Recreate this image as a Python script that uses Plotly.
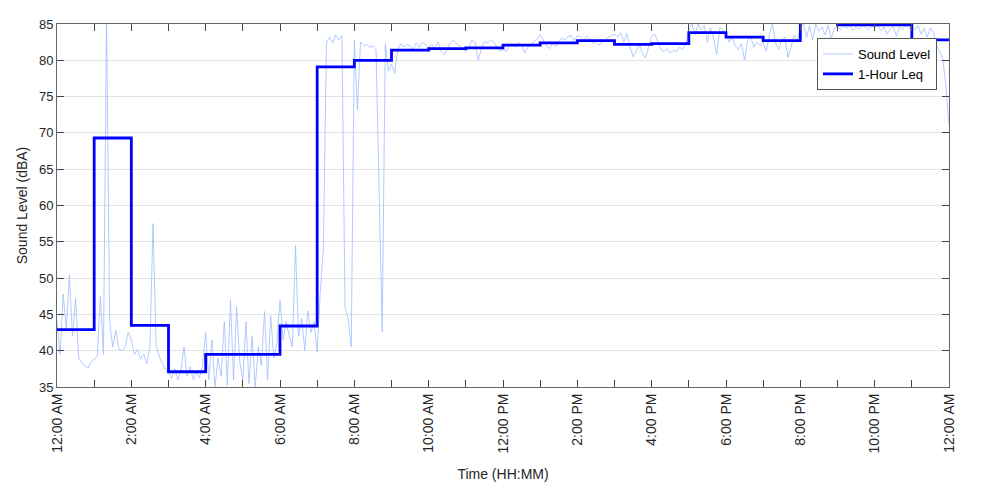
import plotly.graph_objects as go

# Sound level samples, 5-minute resolution, one row per hour (12 values each)
sound_h00 = [44, 39.5, 47.8, 43, 50.4, 42, 47.2, 39, 38.3, 38, 37.6, 38.5]
sound_h01 = [38.8, 39.2, 47.5, 39.5, 86, 44, 40.5, 42.8, 40.2, 40, 40.5, 42.5]
sound_h02 = [41.5, 39.5, 40.2, 38.8, 39.5, 38.2, 40.5, 57.5, 40.8, 39.2, 38.2, 37.5]
sound_h03 = [37, 36.2, 37.5, 36, 37.2, 40.5, 36.5, 37.8, 36, 37, 36.3, 38]
sound_h04 = [42.5, 36, 41.5, 35, 39, 36.5, 44, 35.2, 47, 36, 46, 38.5]
sound_h05 = [36, 44, 35.5, 42, 35, 40.5, 38, 45.4, 36, 44.8, 39, 41]
sound_h06 = [47, 41.5, 44, 42, 40.5, 54.5, 42, 44.5, 40, 45.5, 42.5, 44]
sound_h07 = [39.8, 48, 54, 82.5, 83.2, 82.4, 83.5, 82.8, 83.4, 46, 44.5, 40.5]
sound_h08 = [82.8, 73.2, 82.5, 82, 82.2, 81.8, 82, 81.5, 62, 42.6, 82.3, 78.5]
sound_h09 = [79.5, 78.2, 81.5, 82.3, 81.8, 82.2, 82, 81.5, 82.4, 81.8, 82.5, 82.2]
sound_h10 = [81.8, 82.2, 81.6, 82.5, 81.2, 80.8, 81.5, 82.4, 82.8, 82.3, 81.9, 81.5]
sound_h11 = [81.2, 81.8, 82.8, 82.5, 80, 81.6, 82.6, 82.4, 82.8, 82.5, 81.9, 81.3]
sound_h12 = [81.5, 81.2, 82, 82.3, 81.8, 82.4, 82.1, 81, 81.8, 82.2, 82.6, 82.9]
sound_h13 = [83.5, 82.8, 82, 81.6, 82.3, 81.9, 82.5, 83.1, 82.8, 83.3, 83.4, 82.7]
sound_h14 = [83.4, 83.2, 82.8, 83.3, 82.9, 82.3, 82.6, 82.1, 82.5, 82.9, 83.2, 83.4]
sound_h15 = [83.6, 83.2, 83.8, 82.5, 83.7, 81.8, 80.5, 81.3, 82.2, 81, 80.3, 81.8]
sound_h16 = [83.3, 83.6, 82.4, 81.5, 81.2, 81.6, 81, 81.4, 81.2, 81.8, 81.5, 82.2]
sound_h17 = [84.2, 85, 83.5, 85, 84.2, 84.8, 82.5, 84.5, 83, 80.8, 84.5, 84.2]
sound_h18 = [83.8, 82.5, 83.2, 82, 81.5, 82.3, 80, 82.8, 83.2, 81.8, 82.5, 82]
sound_h19 = [82.5, 81.2, 83.6, 85, 82.4, 81.5, 82.8, 83.2, 80.4, 81.8, 83.5, 82.6]
sound_h20 = [84.5, 85.2, 83.2, 84.8, 82.8, 85, 84, 84.6, 83.5, 84.8, 83, 84.4]
sound_h21 = [84.6, 84.2, 84.8, 84.4, 84.9, 84.1, 84.6, 84.3, 84.8, 84.5, 84.2, 84.7]
sound_h22 = [84.5, 84.8, 84.1, 84.6, 83.6, 84.3, 84.7, 83.3, 84.6, 84.2, 84.9, 84.4]
sound_h23 = [84.6, 84.2, 84.8, 83.6, 84.4, 83.2, 84.5, 83.8, 82, 81.2, 80.2, 76.5]
sound_end = [71]

# 1-hour Leq values (hour 0 .. hour 23)
leq_values = [42.9, 69.3, 43.5, 37.1, 39.5, 39.5, 43.4, 79.1, 80.0, 81.4, 81.6, 81.7,
              82.1, 82.4, 82.7, 82.2, 82.3, 83.8, 83.2, 82.7, 86.0, 84.9, 84.9, 82.8]

tick_hours = list(range(25))
tick_labels = ["12:00 AM", "", "2:00 AM", "", "4:00 AM", "", "6:00 AM", "", "8:00 AM", "",
               "10:00 AM", "", "12:00 PM", "", "2:00 PM", "", "4:00 PM", "", "6:00 PM", "",
               "8:00 PM", "", "10:00 PM", "", "12:00 AM"]

sound = (sound_h00 + sound_h01 + sound_h02 + sound_h03 + sound_h04 + sound_h05 + sound_h06 +
         sound_h07 + sound_h08 + sound_h09 + sound_h10 + sound_h11 + sound_h12 + sound_h13 +
         sound_h14 + sound_h15 + sound_h16 + sound_h17 + sound_h18 + sound_h19 + sound_h20 +
         sound_h21 + sound_h22 + sound_h23 + sound_end)
t_sound = [i * 5 / 60 for i in range(len(sound))]

leq_x = list(range(25))
leq_y = leq_values + [leq_values[-1]]

font = "Liberation Sans, Arial, sans-serif"
fig = go.Figure()
fig.add_trace(go.Scatter(x=t_sound, y=sound, mode="lines", name="Sound Level",
                         line=dict(color="rgb(160,188,255)", width=0.8)))
fig.add_trace(go.Scatter(x=leq_x, y=leq_y, mode="lines", name="1-Hour Leq",
                         line=dict(color="#0000ff", width=2.8, shape="hv")))

fig.update_layout(
    width=1000, height=500,
    margin=dict(l=49, r=59, t=16, b=121, autoexpand=False),
    paper_bgcolor="white", plot_bgcolor="white",
    font=dict(family=font, size=12, color="#262626"),
    legend=dict(x=0.9865, y=0.9614, xanchor="right", yanchor="top",
                bgcolor="white", bordercolor="#555555", borderwidth=1,
                font=dict(size=13, color="#000000"), tracegroupgap=0),
    showlegend=True,
)
fig.update_xaxes(
    range=[0, 24], tickmode="array", tickvals=tick_hours, ticktext=tick_labels,
    tickangle=-90, ticks="inside", ticklen=7, tickcolor="#444444",
    showline=True, linecolor="#666666", linewidth=1, mirror="ticks",
    showgrid=False, zeroline=False,
    tickfont=dict(size=14, color="#262626"),
    title=dict(text="Time (HH:MM)", font=dict(size=14, color="#262626"), standoff=16),
)
fig.update_yaxes(
    range=[35, 85], dtick=5, tick0=35, ticks="inside", ticklen=7, tickcolor="#444444",
    showline=True, linecolor="#666666", linewidth=1, mirror="ticks",
    showgrid=True, gridcolor="#e3e3e3", gridwidth=1, zeroline=False,
    tickfont=dict(size=13, color="#262626"),
    title=dict(text="Sound Level (dBA)", font=dict(size=14, color="#262626"), standoff=8),
)
fig.write_html("out.html")
